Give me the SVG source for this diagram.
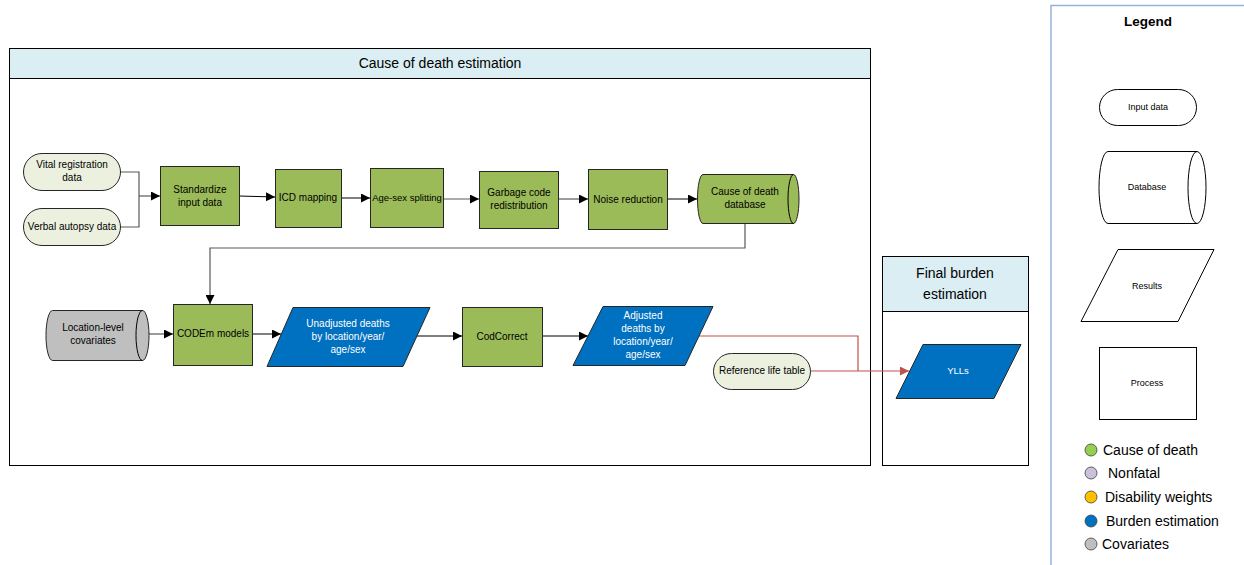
<svg xmlns="http://www.w3.org/2000/svg" width="1244" height="565" viewBox="0 0 1244 565">
<defs>
<marker id="ab" viewBox="0 0 10 10" refX="10" refY="5" markerWidth="9" markerHeight="9" markerUnits="userSpaceOnUse" orient="auto"><path d="M0,0 L10,5 L0,10 Z" fill="#000"/></marker>
<marker id="ar" viewBox="0 0 10 10" refX="10" refY="5" markerWidth="9" markerHeight="9" markerUnits="userSpaceOnUse" orient="auto"><path d="M0,0 L10,5 L0,10 Z" fill="#C0504D"/></marker>
</defs>
<style>
text{font-family:"Liberation Sans",Arial,sans-serif;}
.t{font-size:10px;fill:#000;text-anchor:middle;}
.tw{font-size:10px;fill:#fff;text-anchor:middle;}
.tl{font-size:9px;fill:#000;text-anchor:middle;}
.h{font-size:14px;fill:#000;text-anchor:middle;}
.lg{font-size:14px;fill:#000;}
.in{fill:#EBF1DE;stroke:#262626;stroke-width:1;}
.pr{fill:#9BBB59;stroke:#262626;stroke-width:1;}
.cv{fill:#BFBFBF;stroke:#262626;stroke-width:1;}
.re{fill:#0070C0;stroke:#262626;stroke-width:1;}
.lgs{fill:#fff;stroke:#000;stroke-width:1;}
.c{fill:none;stroke:#000;stroke-width:1;}
.cg{fill:none;stroke:#595959;stroke-width:1.2;}
.cr{fill:none;stroke:#C0504D;stroke-width:1.2;}
</style>
<rect width="1244" height="565" fill="#fff"/>

<g id="container-cod">
<rect x="9.5" y="48.5" width="861" height="417" fill="#fff" stroke="#000"/>
<rect x="9.5" y="48.5" width="861" height="30" fill="#DAEEF3" stroke="#000"/>
<text class="h" x="440" y="68">Cause of death estimation</text>
</g>

<g id="container-final">
<rect x="882.5" y="256.5" width="146" height="209" fill="#fff" stroke="#000"/>
<rect x="882.5" y="256.5" width="146" height="55" fill="#DAEEF3" stroke="#000"/>
<text class="h" x="955" y="278">Final burden</text>
<text class="h" x="955" y="299">estimation</text>
</g>

<g id="legend">
<path d="M1051,565 L1051,5.5 L1244,5.5" fill="none" stroke="#95B3D7" stroke-width="1.5"/>
<text x="1148" y="26" font-size="13.5px" font-weight="bold" text-anchor="middle" font-family="Liberation Sans, Arial, sans-serif">Legend</text>
<rect class="lgs" x="1099.5" y="89.5" width="97" height="36" rx="18" ry="18"/>
<text class="tl" x="1148" y="110">Input data</text>
<path class="lgs" d="M1108,151.5 L1197,151.5 A9 36 0 0 1 1197,223.5 L1108,223.5 A9 36 0 0 1 1108,151.5 Z"/>
<path class="c" d="M1197,151.5 A9 36 0 0 0 1197,223.5"/>
<text class="tl" x="1147" y="190">Database</text>
<path class="lgs" d="M1118,249.5 L1214,249.5 L1178,321.5 L1081,321.5 Z"/>
<text class="tl" x="1147" y="289">Results</text>
<rect class="lgs" x="1099.5" y="347.5" width="97" height="72"/>
<text class="tl" x="1147" y="386">Process</text>
<circle cx="1091" cy="450" r="6" fill="#92D050" stroke="#404040" stroke-width="0.8"/>
<text class="lg" x="1103" y="455">Cause of death</text>
<circle cx="1091" cy="473" r="6" fill="#CCC0DA" stroke="#404040" stroke-width="0.8"/>
<text class="lg" x="1108" y="478">Nonfatal</text>
<circle cx="1091" cy="497" r="6" fill="#FFC000" stroke="#404040" stroke-width="0.8"/>
<text class="lg" x="1105" y="502">Disability weights</text>
<circle cx="1091" cy="521" r="6" fill="#0070C0" stroke="#404040" stroke-width="0.8"/>
<text class="lg" x="1106" y="526">Burden estimation</text>
<circle cx="1091" cy="544" r="6" fill="#BFBFBF" stroke="#404040" stroke-width="0.8"/>
<text class="lg" x="1102" y="549">Covariates</text>
</g>

<g id="connectors">
<path class="cg" d="M121,172 L139,172 L139,227 L121,227"/>
<path class="cg" d="M139,196 L160,196" marker-end="url(#ab)"/>
<path class="c" d="M239,196 L275,197" marker-end="url(#ab)"/>
<path class="c" d="M341,198 L370,198" marker-end="url(#ab)"/>
<path class="cg" d="M443,199 L479,199" marker-end="url(#ab)"/>
<path class="cg" d="M558,199 L588,199" marker-end="url(#ab)"/>
<path class="c" d="M667,199 L697,199" marker-end="url(#ab)"/>
<path class="cg" d="M745,223 L745,248 L210,248 L210,304" marker-end="url(#ab)"/>
<path class="cg" d="M149,334 L173,334" marker-end="url(#ab)"/>
<path class="c" d="M252,334 L281,334" marker-end="url(#ab)"/>
<path class="c" d="M417,336 L462,336" marker-end="url(#ab)"/>
<path class="c" d="M542,336 L588,336" marker-end="url(#ab)"/>
<path class="cr" d="M699,336 L858,336 L858,371"/>
<path class="cr" d="M810,371 L909,371" marker-end="url(#ar)"/>
</g>

<g id="n-vital"><rect class="in" x="23.5" y="153.5" width="97" height="37" rx="18.5" ry="18.5"/><text class="t" x="72" y="168">Vital registration</text><text class="t" x="72" y="181">data</text></g>
<g id="n-verbal"><rect class="in" x="23.5" y="208.5" width="97" height="37" rx="18.5" ry="18.5"/><text class="t" x="72" y="230">Verbal autopsy data</text></g>
<g id="n-standardize"><rect class="pr" x="160.5" y="166.5" width="79" height="59"/><text class="t" x="200" y="193">Standardize</text><text class="t" x="200" y="206">input data</text></g>
<g id="n-icd"><rect class="pr" x="275.5" y="169.5" width="66" height="58"/><text class="t" x="308" y="201">ICD mapping</text></g>
<g id="n-agesex"><rect class="pr" x="370.5" y="168.5" width="73" height="59"/><text class="t" x="407" y="201" style="font-size:9.5px">Age-sex splitting</text></g>
<g id="n-garbage"><rect class="pr" x="479.5" y="171.5" width="79" height="57"/><text class="t" x="519" y="196">Garbage code</text><text class="t" x="519" y="209">redistribution</text></g>
<g id="n-noise"><rect class="pr" x="588.5" y="169.5" width="79" height="60"/><text class="t" x="628" y="203">Noise reduction</text></g>
<g id="n-coddb"><path class="pr" d="M703,174.5 L793.5,174.5 A5.5 24.5 0 0 1 793.5,223.5 L703,223.5 A5.5 24.5 0 0 1 703,174.5 Z"/><path class="c" d="M793.5,174.5 A5.5 24.5 0 0 0 793.5,223.5"/><text class="t" x="745" y="195">Cause of death</text><text class="t" x="745" y="208">database</text></g>
<g id="n-covariates"><path class="cv" d="M52.5,310.5 L142.5,310.5 A6.5 25 0 0 1 142.5,360.5 L52.5,360.5 A6.5 25 0 0 1 52.5,310.5 Z"/><path class="c" d="M142.5,310.5 A6.5 25 0 0 0 142.5,360.5"/><text class="t" x="93" y="331">Location-level</text><text class="t" x="93" y="344">covariates</text></g>
<g id="n-codem"><rect class="pr" x="173.5" y="304.5" width="79" height="61"/><text class="t" x="213" y="337">CODEm models</text></g>
<g id="n-unadjusted"><path class="re" d="M293,307.5 L430,307.5 L403,366.5 L267,366.5 Z"/><text class="tw" x="348" y="327">Unadjusted deaths</text><text class="tw" x="348" y="340">by location/year/</text><text class="tw" x="348" y="353">age/sex</text></g>
<g id="n-codcorrect"><rect class="pr" x="462.5" y="307.5" width="80" height="59"/><text class="t" x="502" y="340">CodCorrect</text></g>
<g id="n-adjusted"><path class="re" d="M603,306.5 L713,306.5 L685,365.5 L573,365.5 Z"/><text class="tw" x="643" y="319">Adjusted</text><text class="tw" x="643" y="332">deaths by</text><text class="tw" x="643" y="345">location/year/</text><text class="tw" x="643" y="358">age/sex</text></g>
<g id="n-lifetable"><rect class="in" x="713.5" y="353.5" width="97" height="36" rx="18" ry="18"/><text class="t" x="762" y="374">Reference life table</text></g>
<g id="n-ylls"><path class="re" d="M923,344.5 L1021,344.5 L994,398.5 L896,398.5 Z"/><text class="tw" x="958" y="374" style="font-size:9.5px">YLLs</text></g>
</svg>
